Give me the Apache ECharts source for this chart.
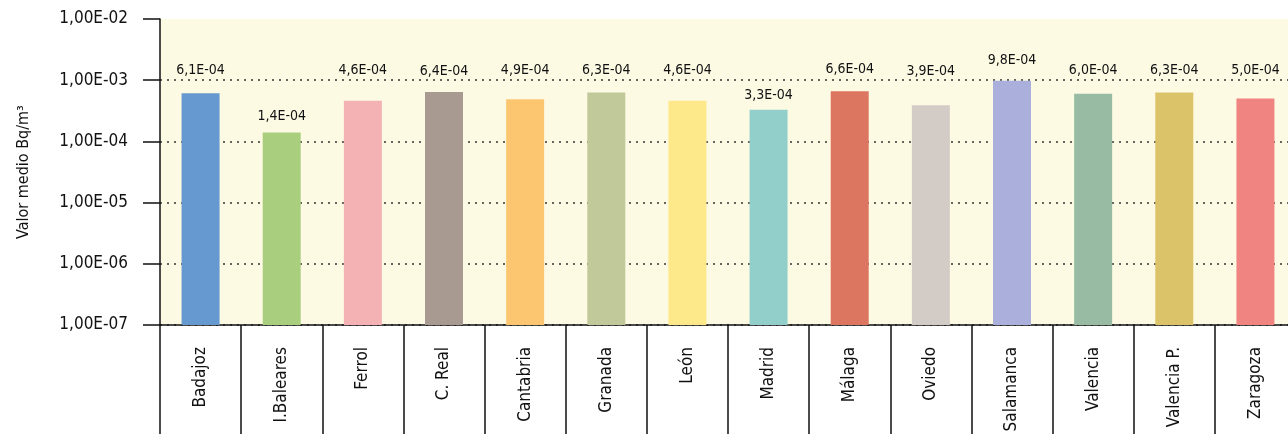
<!DOCTYPE html>
<html>
<head>
<meta charset="utf-8">
<script src="https://cdn.jsdelivr.net/npm/echarts@6/dist/echarts.min.js"></script>
<style>
	html, body { margin: 0; padding: 0; overflow: hidden; background: #fff; }
	#chart { width: 1296px; height: 434px; }
</style>
</head>
<body>
<div id="chart"></div>
<script>
	// datos
	var ciudades = ['Badajoz', 'I.Baleares', 'Ferrol', 'C. Real', 'Cantabria', 'Granada', 'León',
		'Madrid', 'Málaga', 'Oviedo', 'Salamanca', 'Valencia', 'Valencia P.', 'Zaragoza'];
	var valores = [6.1e-4, 1.4e-4, 4.6e-4, 6.4e-4, 4.9e-4, 6.3e-4, 4.6e-4,
		3.3e-4, 6.6e-4, 3.9e-4, 9.8e-4, 6.0e-4, 6.3e-4, 5.0e-4];
	var colores = ['#6699cf', '#a9cf7e', '#f5b2b5', '#a89a91', '#fcc671', '#c1c99a', '#fde88a',
		'#93cfca', '#dc7660', '#d3cbc6', '#abafdb', '#97bca3', '#dbc36a', '#ef8481'];
	// separacion etiqueta-barra (px), como en el original
	var separacion = [16, 9, 23, 14, 22, 15, 23, 7, 15, 27, 13, 16, 15, 21];

	var fuente = '"Liberation Sans Narrow", "DejaVu Sans Condensed", "Liberation Sans", sans-serif';

	function sci(v, dec) {
		var exp = Math.floor(Math.log10(v) + 1e-9);
		var man = v / Math.pow(10, exp);
		var s = man.toFixed(dec);
		if (parseFloat(s) >= 10) {
			exp += 1;
			s = (man / 10).toFixed(dec);
		}
		var e = Math.abs(exp);
		return s.replace('.', ',') + 'E' + (exp < 0 ? '-' : '+') + (e < 10 ? '0' : '') + e;
	}

	var chart = echarts.init(document.getElementById('chart'));
	var data = [];
	for (var i = 0; i < valores.length; i++) {
		data.push({
			value: valores[i],
			itemStyle: { color: colores[i] },
			label: { distance: separacion[i] }
		});
	}
	var punteado = '#333';
	var nada = 'rgba(0,0,0,0)';
	chart.setOption({
		animation: false,
		textStyle: { fontFamily: fuente },
		grid: {
			left: 160, top: 19, bottom: 109, right: 0,
			outerBoundsMode: 'none',
			containLabel: false,
			show: true, backgroundColor: '#fdfae4', borderWidth: 0
		},
		xAxis: {
			type: 'category',
			data: ciudades,
			axisLine: { lineStyle: { color: '#111', width: 1.5 } },
			axisTick: { show: true, interval: 0, length: 112, lineStyle: { color: '#111', width: 1.5 } },
			axisLabel: {
				interval: 0, rotate: 90, margin: 22,
				fontSize: 17, color: '#111', fontFamily: fuente
			}
		},
		yAxis: {
			type: 'log',
			logBase: 10,
			min: 1e-7,
			max: 1e-2,
			startValue: 1e-7,
			name: 'Valor medio Bq/m³',
			nameLocation: 'middle',
			nameRotate: 90,
			nameGap: 128,
			nameTextStyle: { fontSize: 16, color: '#111', fontFamily: fuente },
			axisLine: { show: true, lineStyle: { color: '#111', width: 1.5 } },
			axisTick: { show: true, length: 17, lineStyle: { color: '#111', width: 1.5 } },
			axisLabel: {
				margin: 32, fontSize: 17, color: '#111', fontFamily: fuente,
				formatter: function(v) { return sci(v, 2); }
			},
			splitLine: {
				show: true,
				lineStyle: {
					color: [punteado, punteado, punteado, punteado, punteado, nada, nada],
					width: 1.5,
					type: [2, 5]
				}
			}
		},
		series: [{
			type: 'bar',
			data: data,
			barWidth: 38,
			label: {
				show: true,
				position: 'top',
				fontSize: 14,
				color: '#111',
				fontFamily: fuente,
				formatter: function(p) { return sci(p.value, 1); }
			}
		}]
	});
</script>
</body>
</html>
